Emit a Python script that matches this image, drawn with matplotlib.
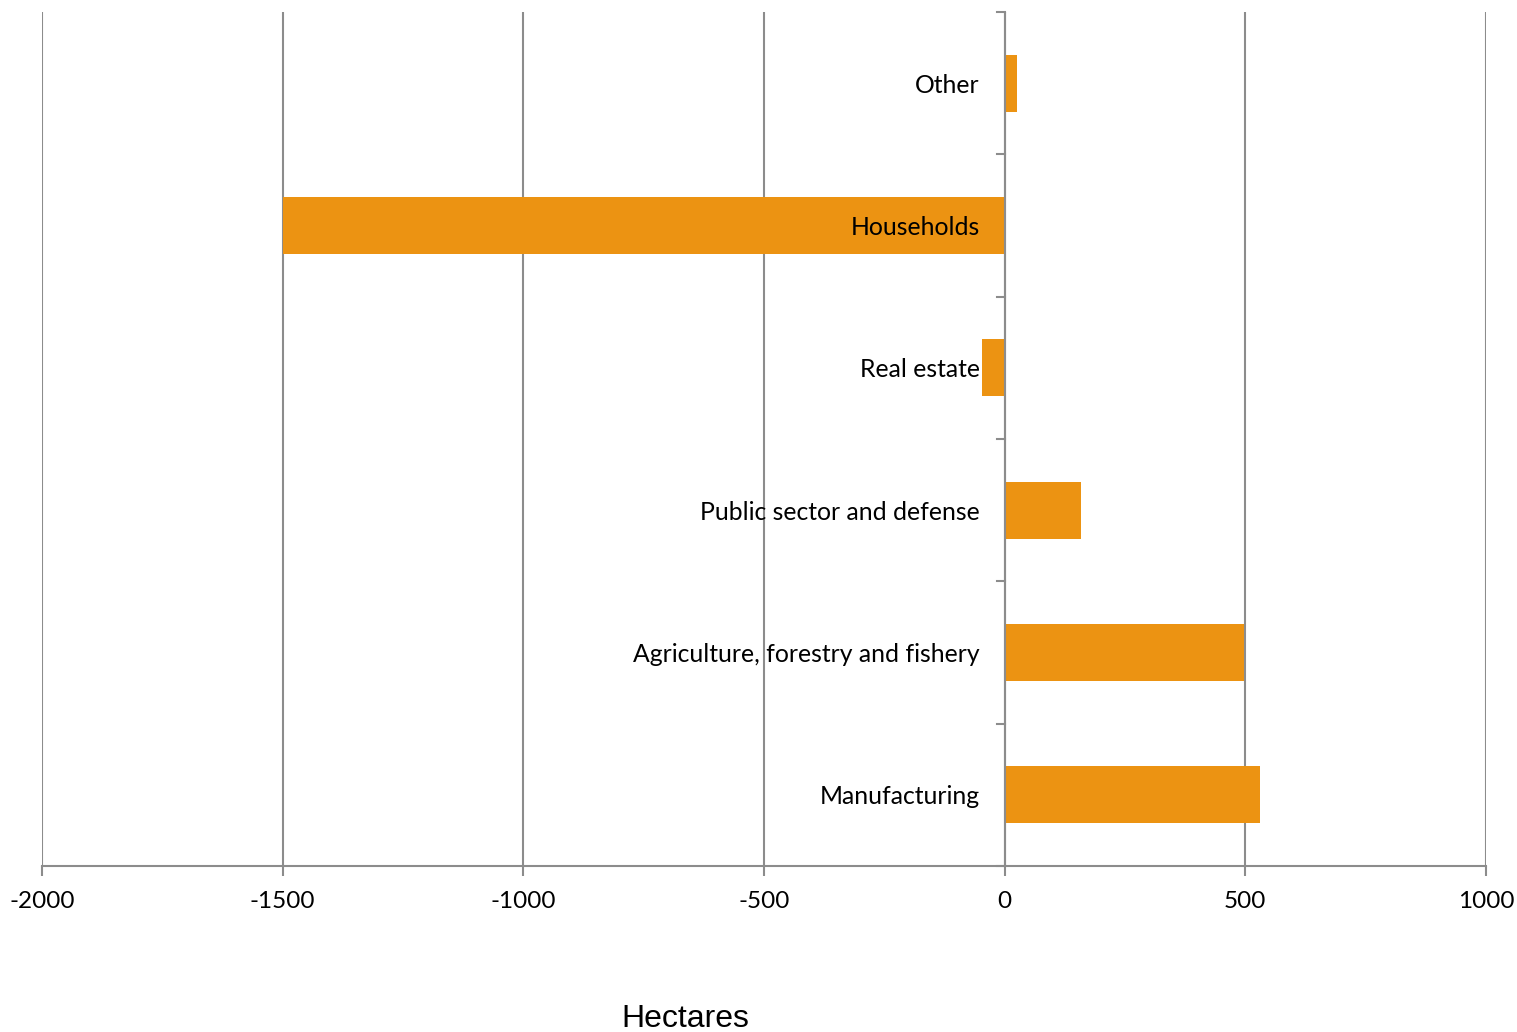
import matplotlib
matplotlib.use("Agg")
import matplotlib.pyplot as plt
import numpy as np

categories = ["Manufacturing", "Agriculture, forestry and fishery",
              "Public sector and defense", "Real estate", "Households", "Other"]
values = [530, 497, 158, -48, -1500, 25]
xticks = [-2000, -1500, -1000, -500, 0, 500, 1000]

BAR = "#EC9312"
GRID = "#8C8C8C"
FONT = "Lato"

fig = plt.figure(figsize=(15.17, 10.32), dpi=100)
ax = fig.add_axes([42/1517, 166/1032, 1444/1517, 854/1032])

y = np.arange(len(categories))
ax.barh(y, values, height=0.4, color=BAR, zorder=3)
ax.set_xlim(-2000, 1000)
ax.set_ylim(-0.5, len(categories) - 0.5)

ax.set_xticks(xticks)
ax.set_xticklabels([str(v) for v in xticks], fontsize=17.5, fontfamily=FONT)
ax.tick_params(axis="x", length=7, width=1.5, color=GRID, pad=11)
ax.xaxis.grid(True, color=GRID, linewidth=1.5, zorder=1)
ax.set_yticks([])

for s in ["top", "right", "left"]:
    ax.spines[s].set_visible(False)
ax.spines["bottom"].set_color(GRID)
ax.spines["bottom"].set_linewidth(1.5)

# vertical axis at zero with boundary ticks
ax.axvline(0, color=GRID, linewidth=1.5, zorder=4)
for b in np.arange(-0.5, len(categories) - 0.5 + 0.01, 1.0):
    ax.plot([-15, 0], [b, b], color=GRID, linewidth=1.5, zorder=4, clip_on=False)

for yi, name in zip(y, categories):
    ax.text(-52, yi - 0.015, name, ha="right", va="center", fontsize=17.8,
            fontfamily=FONT, color="black", zorder=5)

fig.text(685/1517, 1 - 1019/1032, "Hectares", ha="center", va="center",
         fontsize=23, fontfamily="Liberation Sans")

fig.savefig("out.png", dpi=100)
